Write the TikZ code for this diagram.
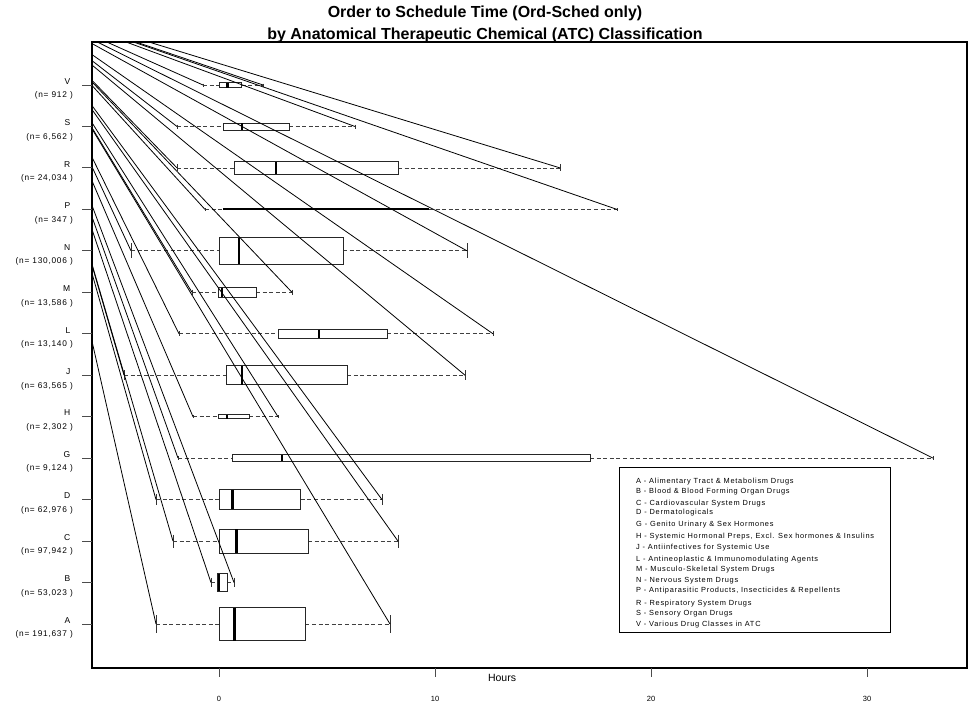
\documentclass[tikz,border=0pt]{standalone}
\usepackage{fontspec}
\setmainfont{Liberation Sans}
\newfontfamily\nfont[LetterSpace=9]{Liberation Sans}
\newfontfamily\legfont[LetterSpace=10]{Liberation Sans}
\tikzset{
  frame/.style={draw=black, line width=1.1pt},
  diag/.style={draw=black, line width=0.8pt},
  whisk/.style={draw=black!75, line width=0.8pt, dash pattern=on 4pt off 2.6pt},
  stap/.style={draw=black!80, line width=0.9pt},
  bx/.style={draw=black!85, line width=1pt},
  med/.style={draw=black, line width=2.4pt},
  tck/.style={draw=black!70, line width=1pt},
  cat/.style={font=\fontsize{8.5}{10}\selectfont, inner sep=0pt, anchor=base east},
  nlab/.style={font=\nfont\fontsize{8.3}{10}\selectfont, inner sep=0pt, anchor=base east},
  leg/.style={font=\legfont\fontsize{7.4}{9}\selectfont, inner sep=0pt, anchor=base west},
  ttl/.style={font=\bfseries\fontsize{16}{18}\selectfont, inner sep=0pt, anchor=base},
  axl/.style={font=\fontsize{7.5}{9}\selectfont, inner sep=0pt}
}
% #1 name, #2 y, #3 lw, #4 q1, #5 med, #6 q3, #7 rw, #8 box half height, #9 staple half height
\newcommand\bxp[9]{%
  \coordinate (#1l) at (#3,#2);
  \coordinate (#1r) at (#7,#2);
  \draw[whisk] (#1l) -- (#4,#2);
  \draw[whisk] (#6,#2) -- (#1r);
  \draw[stap] (#3,#2-#9) -- (#3,#2+#9);
  \draw[stap] (#7,#2-#9) -- (#7,#2+#9);
  \draw[bx] (#4,#2-#8) rectangle (#6,#2+#8);
  \draw[med] (#5,#2-#8) -- (#5,#2+#8);
}
\begin{document}
\begin{tikzpicture}[x=1pt,y=-1pt]
\useasboundingbox (0,0) rectangle (969,704);
% title
\node[ttl] (t1) at (485,17.5) {Order to Schedule Time (Ord-Sched only)};
\node[ttl] (t2) at (485,39) {by Anatomical Therapeutic Chemical (ATC) Classification};
% boxes
\bxp{V}{85}{203}{219}{227.5}{241.5}{263}{2.5}{1.5}
\bxp{S}{126.5}{177}{223}{242}{289}{355}{3.5}{2}
\bxp{R}{167.9}{177}{234}{276}{398}{560}{6.3}{3.5}
\bxp{N}{250.8}{131}{219}{239}{343}{467}{13.3}{7.5}
\bxp{M}{292.3}{192}{218}{222}{256}{292}{4.8}{2.6}
\bxp{L}{333.8}{179}{278}{319}{387}{493}{4.3}{2.4}
\bxp{J}{375.2}{124}{226}{242}{347}{465}{9.5}{5.2}
\bxp{H}{416.7}{193}{218}{226.7}{249}{278}{2}{1.5}
\bxp{G}{458.1}{178}{232}{282}{590}{933}{3.3}{2}
\bxp{D}{499.6}{156}{219}{232.3}{300.7}{382}{9.7}{5.3}
\bxp{C}{541.1}{173}{219}{236.3}{308}{398}{12}{6.6}
\bxp{B}{582.5}{211}{217.3}{219}{227}{234}{8.7}{4.8}
\bxp{A}{624}{156}{219}{234.3}{305.3}{390}{16.5}{9}
% P: degenerate box drawn as a thick line
\coordinate (Pl) at (205,209.4);
\coordinate (Pr) at (617,209.4);
\draw[whisk] (Pl) -- (223,209.4);
\draw[whisk] (429,209.4) -- (Pr);
\draw[stap] (205,208) -- (205,211);
\draw[stap] (617,208) -- (617,211);
\draw[black, line width=2pt] (223,209.4) -- (429,209.4);
% stray lines from the device origin to every whisker end
\coordinate (O) at (15,1);
\begin{scope}
\clip (92,42) rectangle (967,668);
\foreach \c in {V,S,R,P,N,M,L,J,H,G,D,C,B,A}{
  \draw[diag] (O) -- (\c l);
  \draw[diag] (O) -- (\c r);
}
\end{scope}
% frame
\draw[frame] (92,42) rectangle (967,668);
% y axis ticks and labels
\foreach \c/\y/\n in {V/85/912,S/126.5/{6,562},R/167.9/{24,034},P/209.4/347,N/250.8/{130,006},M/292.3/{13,586},L/333.8/{13,140},J/375.2/{63,565},H/416.7/{2,302},G/458.1/{9,124},D/499.6/{62,976},C/541.1/{97,942},B/582.5/{53,023},A/624/{191,637}}{
  \draw[tck] (82,\y) -- (92,\y);
  \node[cat] (lab\c) at (70.5,\y-0.8) {\c};
  \node[nlab] (n\c) at (73,\y+12.8) {(n= \n\ )};
}
% x axis
\foreach \v/\x in {0/219,10/435,20/651,30/867}{
  \draw[tck] (\x,668) -- (\x,677);
  \node[axl] (x\v) at (\x,699) {\v};
}
\node[font=\fontsize{10.5}{12}\selectfont, inner sep=0pt] (hours) at (502,678) {Hours};
% legend
\draw[black, line width=0.9pt] (619,467) rectangle (890,632);
\foreach \yy/\t [count=\i] in {
 483.2/{A - Alimentary Tract \& Metabolism Drugs},
 493.2/{B - Blood \& Blood Forming Organ Drugs},
 505.2/{C - Cardiovascular System Drugs},
 514.8/{D - Dermatologicals},
 526.5/{G - Genito Urinary \& Sex Hormones},
 538.2/{H - Systemic Hormonal Preps, Excl. Sex hormones \& Insulins},
 549.5/{J - Antiinfectives for Systemic Use},
 561.5/{L - Antineoplastic \& Immunomodulating Agents},
 571.2/{M - Musculo-Skeletal System Drugs},
 582.8/{N - Nervous System Drugs},
 592.8/{P - Antiparasitic Products, Insecticides \& Repellents},
 605.2/{R - Respiratory System Drugs},
 615.2/{S - Sensory Organ Drugs},
 626.5/{V - Various Drug Classes in ATC}}{
  \node[leg] (leg\i) at (636,\yy) {\t};
}
\end{tikzpicture}
\end{document}
